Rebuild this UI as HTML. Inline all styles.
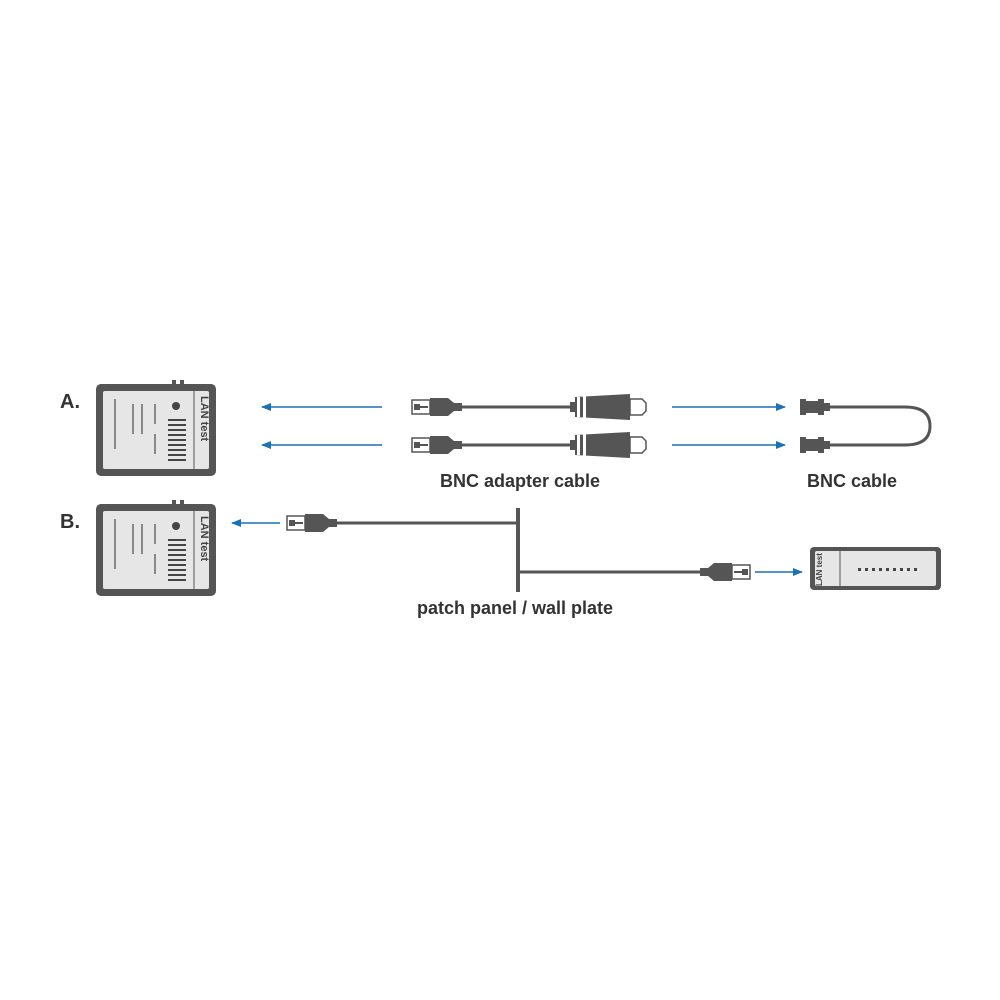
<!DOCTYPE html>
<html><head><style>
html,body{margin:0;padding:0;background:#fff;}
svg{display:block;font-family:"Liberation Sans",sans-serif;}
</style></head><body>
<svg width="1000" height="1000" viewBox="0 0 1000 1000">
<defs>
<marker id="ah" markerWidth="10" markerHeight="8" refX="9" refY="4" orient="auto" markerUnits="userSpaceOnUse">
<path d="M0,0 L10,4 L0,8 z" fill="#1a72b8"/></marker>
<g id="tester">
<rect x="0" y="0" width="120" height="92" rx="5" fill="#555"/>
<rect x="76" y="-4" width="4" height="5" fill="#555"/><rect x="84" y="-4" width="4" height="5" fill="#555"/>
<rect x="7" y="7" width="106" height="78" rx="2" fill="#e6e6e6"/>
<line x1="98" y1="7" x2="98" y2="85" stroke="#555" stroke-width="1"/>
<circle cx="80" cy="22" r="4" fill="#444"/>
<g fill="#444">
<rect x="72" y="35" width="18" height="2"/><rect x="72" y="40" width="18" height="2"/><rect x="72" y="45" width="18" height="2"/><rect x="72" y="50" width="18" height="2"/><rect x="72" y="55" width="18" height="2"/><rect x="72" y="60" width="18" height="2"/><rect x="72" y="65" width="18" height="2"/><rect x="72" y="70" width="18" height="2"/><rect x="72" y="75" width="18" height="2"/>
</g>
<text x="105" y="12" font-size="11" font-weight="bold" fill="#444" transform="rotate(90 105 12)">LAN test</text>
<g fill="#888"><rect x="18" y="15" width="2" height="50"/><rect x="36" y="20" width="2" height="30"/><rect x="45" y="20" width="2" height="30"/><rect x="58" y="20" width="2" height="20"/><rect x="58" y="50" width="2" height="20"/></g>
</g>
<g id="rjl">
<rect x="0" y="-7" width="18" height="14" fill="#fff" stroke="#555" stroke-width="1.5"/>
<rect x="2" y="-3" width="6" height="6" fill="#555"/><rect x="8" y="-1" width="8" height="2" fill="#555"/>
<path d="M18,-9 L36,-9 L42,-4 L50,-4 L50,4 L42,4 L36,9 L18,9 z" fill="#555"/>
</g>
<g id="bnc">
<path d="M0,-5 L5,-5 L5,-10 L60,-13 L60,13 L5,10 L5,5 L0,5z" fill="#555"/>
<rect x="7" y="-10" width="3" height="20" fill="#fff"/><rect x="13" y="-11" width="3" height="22" fill="#fff"/>
<path d="M60,-8 L72,-8 L76,-4 L76,4 L72,8 L60,8z" fill="#fff" stroke="#555" stroke-width="1.5"/>
</g>
<g id="bncf">
<rect x="0" y="-8" width="6" height="16" fill="#555"/><rect x="6" y="-6" width="12" height="12" fill="#555"/><rect x="18" y="-8" width="6" height="16" fill="#555"/><rect x="24" y="-4" width="6" height="8" fill="#555"/>
</g>
</defs>
<text x="60" y="408" font-size="20" font-weight="bold" fill="#333">A.</text>
<text x="60" y="528" font-size="20" font-weight="bold" fill="#333">B.</text>
<use href="#tester" x="96" y="384"/>
<use href="#tester" x="96" y="504"/>
<g stroke="#1a72b8" stroke-width="1.5" marker-end="url(#ah)">
<line x1="382" y1="407" x2="262" y2="407"/><line x1="382" y1="445" x2="262" y2="445"/>
<line x1="672" y1="407" x2="785" y2="407"/><line x1="672" y1="445" x2="785" y2="445"/>
<line x1="280" y1="523" x2="232" y2="523"/><line x1="755" y1="572" x2="802" y2="572"/>
</g>
<g stroke="#555" stroke-width="3" fill="none">
<line x1="462" y1="407" x2="570" y2="407"/><line x1="462" y1="445" x2="570" y2="445"/>
<path d="M828,407 L905,407 Q930,407 930,426 Q930,445 905,445 L828,445"/>
<line x1="335" y1="523" x2="518" y2="523"/>
<line x1="518" y1="572" x2="700" y2="572"/>
</g>
<rect x="516" y="508" width="4" height="84" fill="#555"/>
<use href="#rjl" x="412" y="407"/><use href="#rjl" x="412" y="445"/>
<use href="#bnc" x="570" y="407"/><use href="#bnc" x="570" y="445"/>
<use href="#bncf" x="800" y="407"/><use href="#bncf" x="800" y="445"/>
<use href="#rjl" x="287" y="523"/>
<use href="#rjl" transform="translate(750 572) scale(-1 1)"/>
<text x="520" y="487" font-size="18" font-weight="bold" fill="#333" text-anchor="middle">BNC adapter cable</text>
<text x="852" y="487" font-size="18" font-weight="bold" fill="#333" text-anchor="middle">BNC cable</text>
<text x="515" y="614" font-size="18" font-weight="bold" fill="#333" text-anchor="middle">patch panel / wall plate</text>
<rect x="810" y="547" width="131" height="43" rx="4" fill="#555"/>
<rect x="815" y="551" width="121" height="35" rx="2" fill="#e6e6e6"/>
<line x1="840" y1="551" x2="840" y2="586" stroke="#555"/>
<text x="822" y="586" font-size="8" font-weight="bold" fill="#444" transform="rotate(-90 822 586)">LAN test</text>
<g fill="#444"><rect x="858" y="568" width="3" height="3"/><rect x="865" y="568" width="3" height="3"/><rect x="872" y="568" width="3" height="3"/><rect x="879" y="568" width="3" height="3"/><rect x="886" y="568" width="3" height="3"/><rect x="893" y="568" width="3" height="3"/><rect x="900" y="568" width="3" height="3"/><rect x="907" y="568" width="3" height="3"/><rect x="914" y="568" width="3" height="3"/></g>
</svg>
</body></html>
